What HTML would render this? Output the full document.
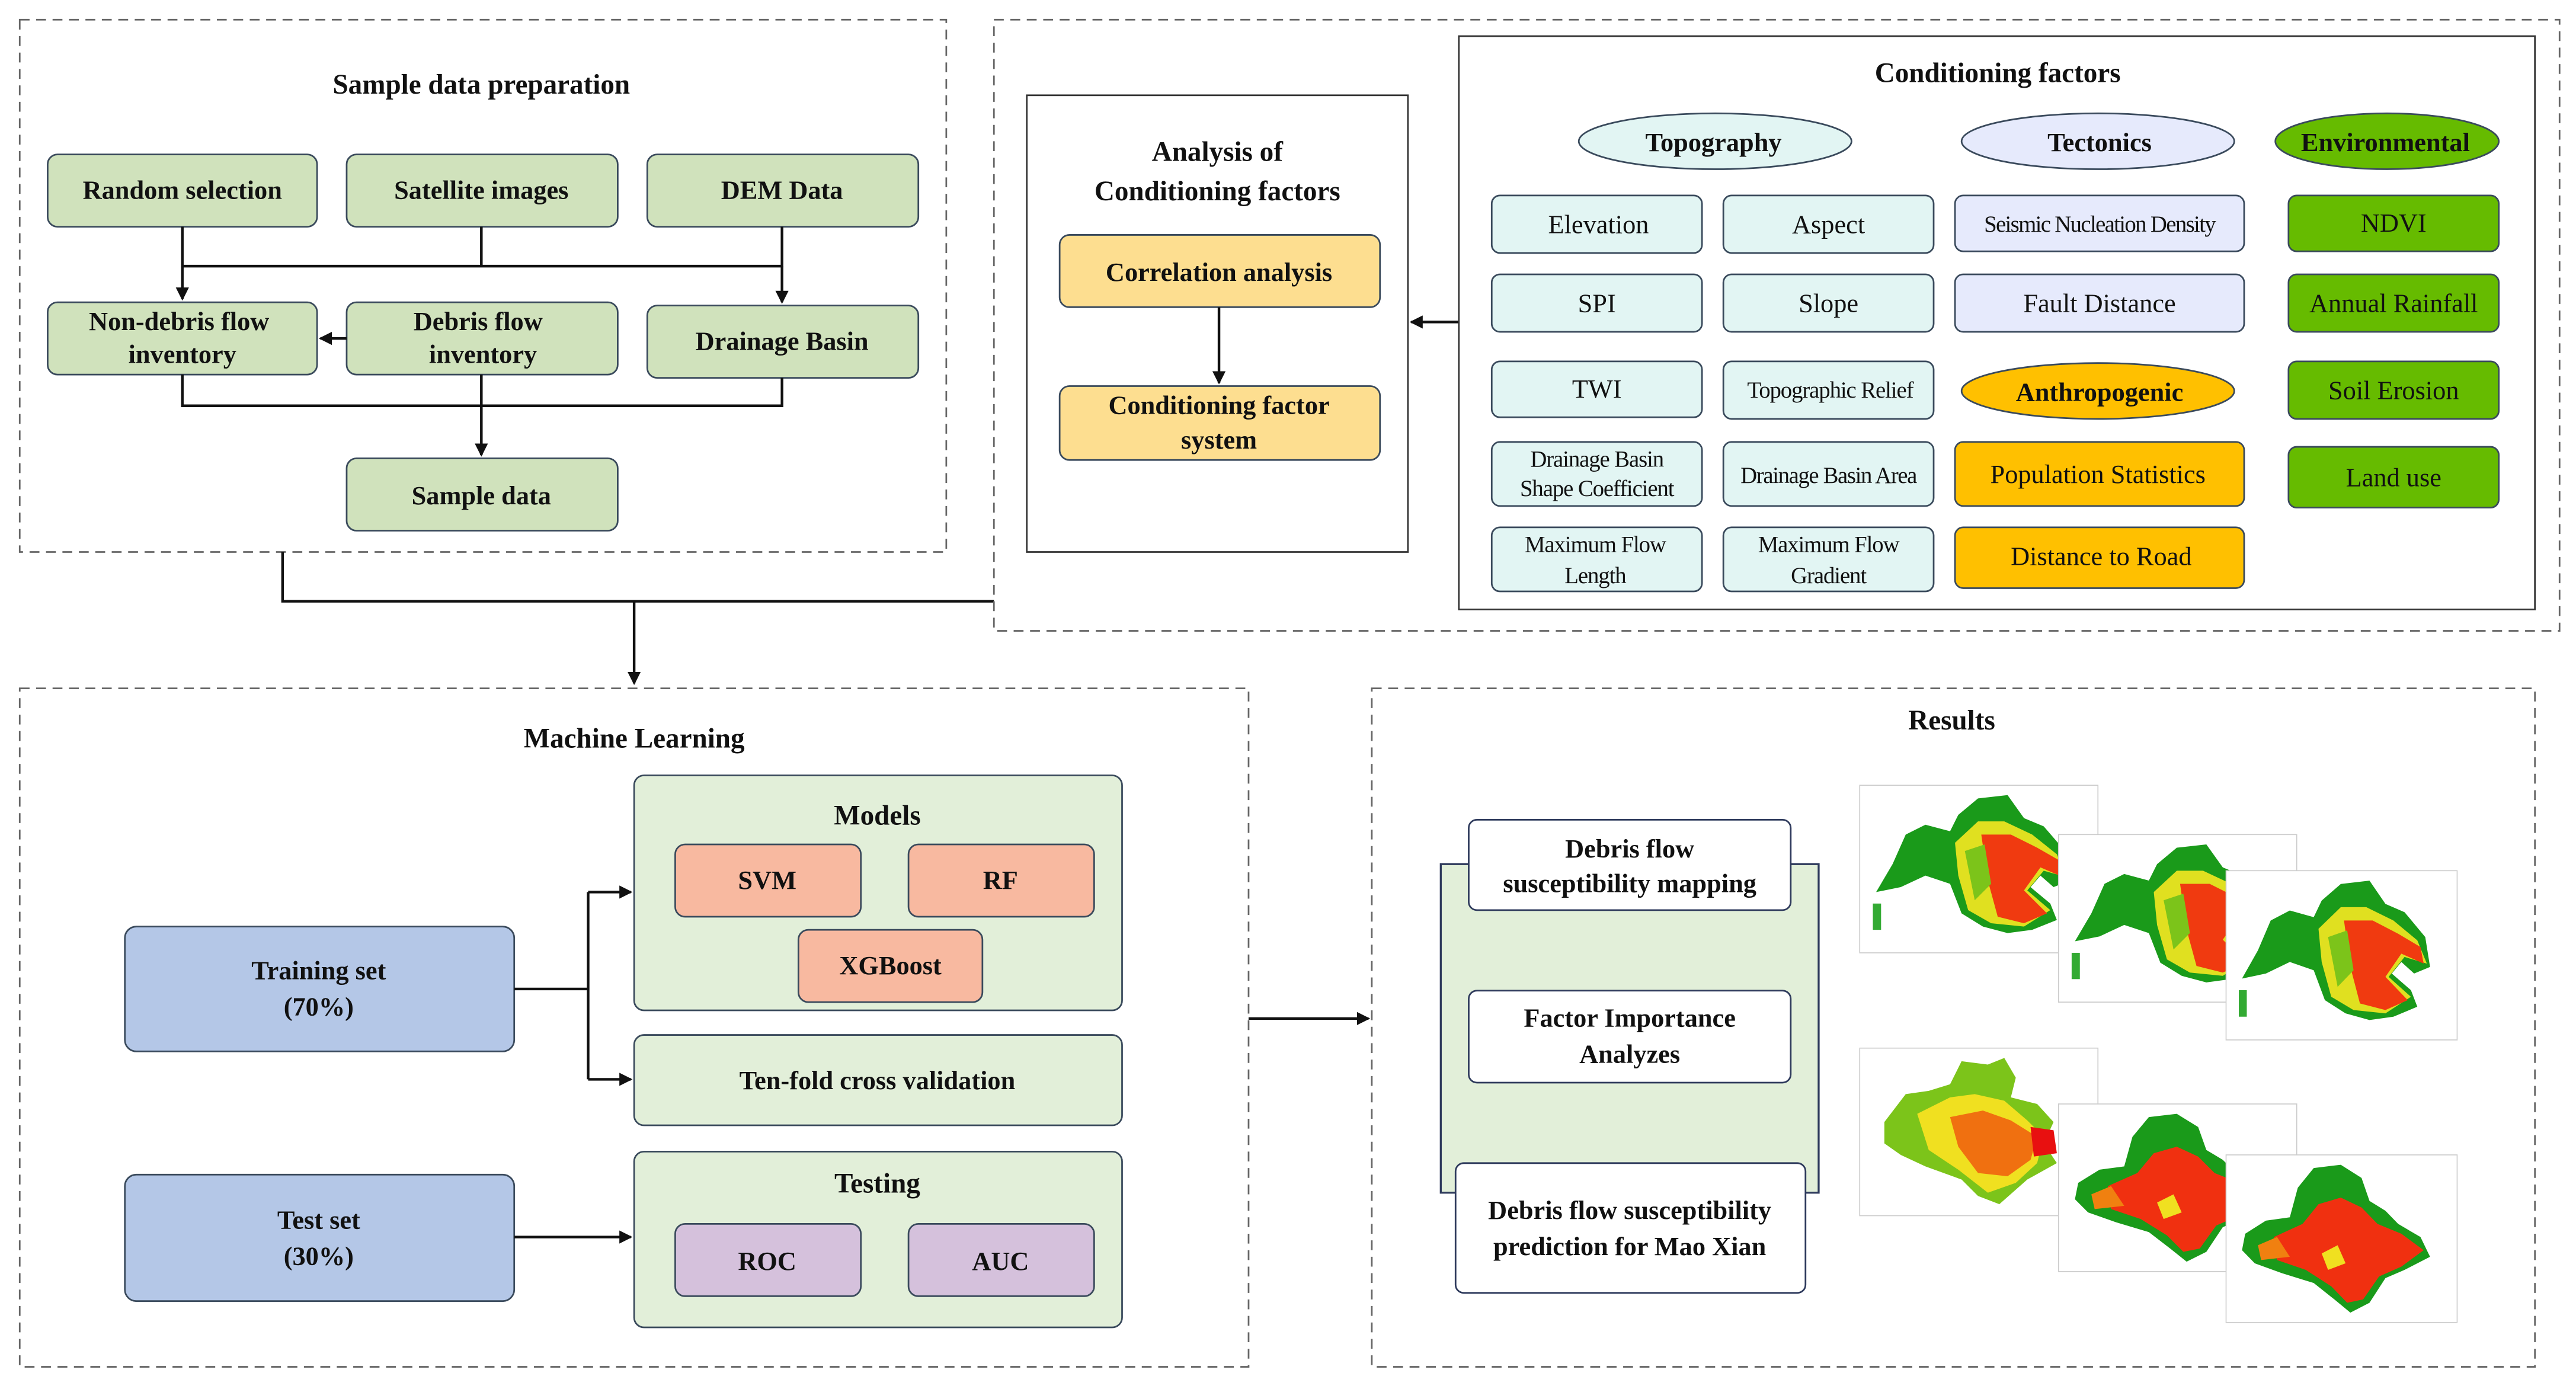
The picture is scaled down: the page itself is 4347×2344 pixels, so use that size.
<!DOCTYPE html>
<html><head><meta charset="utf-8"><style>
html,body{margin:0;padding:0;background:#fff;}
svg{display:block;}
text{font-family:"Liberation Serif",serif;fill:#111;}
.b{font-weight:bold;}
</style></head><body>
<svg width="4347" height="2344" viewBox="0 0 1568 845.5" xmlns="http://www.w3.org/2000/svg">
<defs>
<marker id="ar" markerWidth="8" markerHeight="8" refX="7" refY="4" orient="auto" markerUnits="userSpaceOnUse">
<path d="M0,0 L8,4 L0,8 Z" fill="#111"/></marker>
<g id="mapA">
<rect x="0" y="0" width="145" height="102" fill="#fff" stroke="#ccc" stroke-width="0.6"/>
<path d="M10,65 L20,48 L28,30 L40,24 L55,28 L60,18 L72,8 L90,6 L100,20 L112,25 L125,40 L128,58 L118,62 L110,55 L104,62 L116,72 L120,82 L105,88 L90,90 L75,86 L62,78 L55,60 L40,55 L25,62 Z" fill="#1a9a1a"/>
<path d="M58,35 L72,22 L88,22 L105,30 L120,42 L126,56 L112,52 L102,64 L116,76 L100,86 L80,84 L66,76 L60,55 Z" fill="#e0e020"/>
<path d="M74,30 L92,30 L108,38 L122,46 L124,56 L110,50 L100,64 L114,78 L100,84 L84,80 L78,58 Z" fill="#f03a10"/>
<path d="M64,40 L76,36 L80,60 L70,70 Z" fill="#7cc41a"/>
<rect x="8" y="72" width="5" height="16" fill="#3a3"/>
</g>
<g id="mapB">
<rect x="0" y="0" width="145" height="102" fill="#fff" stroke="#ccc" stroke-width="0.6"/>
<path d="M15,45 L28,28 L42,26 L55,22 L62,8 L78,10 L88,6 L95,18 L92,30 L108,34 L118,45 L112,58 L120,70 L102,80 L85,95 L72,90 L62,80 L40,72 L25,65 L15,58 Z" fill="#7cc41a"/>
<path d="M35,40 L55,30 L70,28 L88,32 L102,44 L112,54 L108,70 L95,82 L78,88 L60,74 L42,62 Z" fill="#f0e020"/>
<path d="M55,42 L75,38 L92,44 L108,54 L104,68 L90,78 L72,76 L60,60 Z" fill="#f07010"/>
<path d="M104,48 L118,50 L120,64 L106,66 Z" fill="#e81010"/>
</g>
<g id="mapC">
<rect x="0" y="0" width="145" height="102" fill="#fff" stroke="#ccc" stroke-width="0.6"/>
<path d="M12,48 L25,40 L40,38 L45,20 L55,8 L72,6 L85,14 L90,28 L100,34 L108,42 L122,50 L128,62 L112,70 L100,75 L90,90 L78,96 L68,88 L55,78 L35,72 L18,66 L10,58 Z" fill="#1a9a1a"/>
<path d="M30,50 L48,42 L58,30 L72,26 L85,32 L95,42 L110,48 L124,58 L110,68 L96,74 L86,88 L76,90 L66,80 L50,70 L32,64 Z" fill="#f03010"/>
<path d="M20,55 L32,50 L40,62 L22,64 Z" fill="#f08010"/>
<path d="M60,60 L70,55 L75,66 L64,70 Z" fill="#f0e020"/>
</g>
</defs>

<!-- Sample data preparation -->
<rect x="12" y="12" width="564" height="324" fill="none" stroke="#666" stroke-width="1" stroke-dasharray="6,4"/>
<text x="293" y="57" text-anchor="middle" class="b" font-size="17">Sample data preparation</text>
<g fill="#d0e2bc" stroke="#3a4a5c" stroke-width="1">
<rect x="29" y="94" width="164" height="44" rx="6"/>
<rect x="211" y="94" width="165" height="44" rx="6"/>
<rect x="394" y="94" width="165" height="44" rx="6"/>
<rect x="29" y="184" width="164" height="44" rx="6"/>
<rect x="211" y="184" width="165" height="44" rx="6"/>
<rect x="394" y="186" width="165" height="44" rx="6"/>
<rect x="211" y="279" width="165" height="44" rx="6"/>
</g>
<g class="b" font-size="16" text-anchor="middle">
<text x="111" y="121" class="b">Random selection</text>
<text x="293" y="121" class="b">Satellite images</text>
<text x="476" y="121" class="b">DEM Data</text>
<text x="109" y="201" class="b">Non-debris flow</text>
<text x="111" y="221" class="b">inventory</text>
<text x="291" y="201" class="b">Debris flow</text>
<text x="294" y="221" class="b">inventory</text>
<text x="476" y="213" class="b">Drainage Basin</text>
<text x="293" y="307" class="b">Sample data</text>
</g>
<g stroke="#111" stroke-width="1.6" fill="none">
<path d="M111,138 V162 H476 V138"/>
<path d="M293,138 V162"/>
<path d="M111,162 V182" marker-end="url(#ar)"/>
<path d="M476,162 V184" marker-end="url(#ar)"/>
<path d="M211,206 H195" marker-end="url(#ar)"/>
<path d="M111,228 V247 H476 V230"/>
<path d="M293,228 V277" marker-end="url(#ar)"/>
<path d="M172,336 V366 H605"/>
<path d="M386,366 V416" marker-end="url(#ar)"/>
</g>

<!-- Top right -->
<rect x="605" y="12" width="953" height="372" fill="none" stroke="#666" stroke-width="1" stroke-dasharray="6,4"/>
<rect x="625" y="58" width="232" height="278" fill="none" stroke="#333" stroke-width="1"/>
<text x="741" y="98" text-anchor="middle" class="b" font-size="17">Analysis of</text>
<text x="741" y="122" text-anchor="middle" class="b" font-size="17">Conditioning factors</text>
<rect x="645" y="143" width="195" height="44" rx="6" fill="#fdde90" stroke="#3a4a5c"/>
<rect x="645" y="235" width="195" height="45" rx="6" fill="#fdde90" stroke="#3a4a5c"/>
<text x="742" y="171" text-anchor="middle" class="b" font-size="16">Correlation analysis</text>
<text x="742" y="252" text-anchor="middle" class="b" font-size="16">Conditioning factor</text>
<text x="742" y="273" text-anchor="middle" class="b" font-size="16">system</text>
<path d="M742,187 V233" stroke="#111" stroke-width="1.6" marker-end="url(#ar)"/>
<path d="M888,196 H859" stroke="#111" stroke-width="1.6" marker-end="url(#ar)"/>

<rect x="888" y="22" width="655" height="349" fill="none" stroke="#333" stroke-width="1"/>
<text x="1216" y="50" text-anchor="middle" class="b" font-size="17">Conditioning factors</text>
<ellipse cx="1044" cy="86" rx="83" ry="17" fill="#e2f5f3" stroke="#3a4a5c"/>
<ellipse cx="1277" cy="86" rx="83" ry="17" fill="#e6eafc" stroke="#3a4a5c"/>
<ellipse cx="1453" cy="86" rx="68" ry="17" fill="#66bb00" stroke="#3a4a5c"/>
<ellipse cx="1277" cy="238" rx="83" ry="17" fill="#ffc000" stroke="#3a4a5c"/>
<g class="b" font-size="16" text-anchor="middle">
<text x="1043" y="92" class="b">Topography</text>
<text x="1278" y="92" class="b">Tectonics</text>
<text x="1452" y="92" class="b">Environmental</text>
<text x="1278" y="244" class="b">Anthropogenic</text>
</g>
<g stroke="#3a4a5c" stroke-width="1">
<g fill="#e2f5f3">
<rect x="908" y="119" width="128" height="35" rx="5"/>
<rect x="1049" y="119" width="128" height="35" rx="5"/>
<rect x="908" y="167" width="128" height="35" rx="5"/>
<rect x="1049" y="167" width="128" height="35" rx="5"/>
<rect x="908" y="220" width="128" height="34" rx="5"/>
<rect x="1049" y="220" width="128" height="35" rx="5"/>
<rect x="908" y="269" width="128" height="39" rx="5"/>
<rect x="1049" y="269" width="128" height="39" rx="5"/>
<rect x="908" y="321" width="128" height="39" rx="5"/>
<rect x="1049" y="321" width="128" height="39" rx="5"/>
</g>
<g fill="#e6eafc">
<rect x="1190" y="119" width="176" height="34" rx="5"/>
<rect x="1190" y="167" width="176" height="35" rx="5"/>
</g>
<g fill="#ffc000">
<rect x="1190" y="269" width="176" height="39" rx="5"/>
<rect x="1190" y="321" width="176" height="37" rx="5"/>
</g>
<g fill="#66bb00">
<rect x="1393" y="119" width="128" height="34" rx="5"/>
<rect x="1393" y="167" width="128" height="35" rx="5"/>
<rect x="1393" y="220" width="128" height="35" rx="5"/>
<rect x="1393" y="272" width="128" height="37" rx="5"/>
</g>
</g>
<g font-size="16" text-anchor="middle">
<text x="973" y="142">Elevation</text>
<text x="1113" y="142">Aspect</text>
<text x="1278" y="141" font-size="14" letter-spacing="-0.6">Seismic Nucleation Density</text>
<text x="1457" y="141">NDVI</text>
<text x="972" y="190">SPI</text>
<text x="1113" y="190">Slope</text>
<text x="1278" y="190">Fault Distance</text>
<text x="1457" y="190">Annual Rainfall</text>
<text x="972" y="242">TWI</text>
<text x="1114" y="242" font-size="14" letter-spacing="-0.4">Topographic Relief</text>
<text x="1457" y="243">Soil Erosion</text>
<text x="972" y="284" font-size="14" letter-spacing="-0.4">Drainage Basin</text>
<text x="972" y="302" font-size="14" letter-spacing="-0.4">Shape Coefficient</text>
<text x="1113" y="294" font-size="14" letter-spacing="-0.5">Drainage Basin Area</text>
<text x="1277" y="294">Population Statistics</text>
<text x="1457" y="296">Land use</text>
<text x="971" y="336" font-size="14" letter-spacing="-0.4">Maximum Flow</text>
<text x="971" y="355" font-size="14" letter-spacing="-0.4">Length</text>
<text x="1113" y="336" font-size="14" letter-spacing="-0.4">Maximum Flow</text>
<text x="1113" y="355" font-size="14" letter-spacing="-0.4">Gradient</text>
<text x="1279" y="344">Distance to Road</text>
</g>

<!-- Machine Learning -->
<rect x="12" y="419" width="748" height="413" fill="none" stroke="#666" stroke-width="1" stroke-dasharray="6,4"/>
<text x="386" y="455" text-anchor="middle" class="b" font-size="17">Machine Learning</text>
<g stroke="#3a4a5c" stroke-width="1">
<rect x="386" y="472" width="297" height="143" rx="6" fill="#e2efd9"/>
<rect x="386" y="630" width="297" height="55" rx="6" fill="#e2efd9"/>
<rect x="386" y="701" width="297" height="107" rx="6" fill="#e2efd9"/>
<rect x="411" y="514" width="113" height="44" rx="6" fill="#f8b9a0"/>
<rect x="553" y="514" width="113" height="44" rx="6" fill="#f8b9a0"/>
<rect x="486" y="566" width="112" height="44" rx="6" fill="#f8b9a0"/>
<rect x="411" y="745" width="113" height="44" rx="6" fill="#d5c1dc"/>
<rect x="553" y="745" width="113" height="44" rx="6" fill="#d5c1dc"/>
<rect x="76" y="564" width="237" height="76" rx="7" fill="#b4c7e7"/>
<rect x="76" y="715" width="237" height="77" rx="7" fill="#b4c7e7"/>
</g>
<g class="b" font-size="16" text-anchor="middle">
<text x="534" y="502" class="b" font-size="17">Models</text>
<text x="467" y="541" class="b">SVM</text>
<text x="609" y="541" class="b">RF</text>
<text x="542" y="593" class="b">XGBoost</text>
<text x="534" y="663" class="b">Ten-fold cross validation</text>
<text x="534" y="726" class="b" font-size="17">Testing</text>
<text x="467" y="773" class="b">ROC</text>
<text x="609" y="773" class="b">AUC</text>
<text x="194" y="596" class="b">Training set</text>
<text x="194" y="618" class="b">(70%)</text>
<text x="194" y="748" class="b">Test set</text>
<text x="194" y="770" class="b">(30%)</text>
</g>
<g stroke="#111" stroke-width="1.6" fill="none">
<path d="M313,602 H358"/>
<path d="M358,543 V657"/>
<path d="M358,543 H384" marker-end="url(#ar)"/>
<path d="M358,657 H384" marker-end="url(#ar)"/>
<path d="M313,753 H384" marker-end="url(#ar)"/>
<path d="M760,620 H833" marker-end="url(#ar)"/>
</g>

<!-- Results -->
<rect x="835" y="419" width="708" height="413" fill="none" stroke="#666" stroke-width="1" stroke-dasharray="6,4"/>
<text x="1188" y="444" text-anchor="middle" class="b" font-size="17">Results</text>
<rect x="877" y="526" width="230" height="200" fill="#e2efd9" stroke="#2e3a5c" stroke-width="1.2"/>
<g fill="#fff" stroke="#2e3a5c" stroke-width="1">
<rect x="894" y="499" width="196" height="55" rx="5"/>
<rect x="894" y="603" width="196" height="56" rx="5"/>
<rect x="886" y="708" width="213" height="79" rx="5"/>
</g>
<g class="b" font-size="16" text-anchor="middle">
<text x="992" y="522" class="b">Debris flow</text>
<text x="992" y="543" class="b">susceptibility mapping</text>
<text x="992" y="625" class="b">Factor Importance</text>
<text x="992" y="647" class="b">Analyzes</text>
<text x="992" y="742" class="b">Debris flow susceptibility</text>
<text x="992" y="764" class="b">prediction for Mao Xian</text>
</g>
<use href="#mapA" transform="translate(1132,478)"/>
<use href="#mapA" transform="translate(1253,508)"/>
<use href="#mapA" transform="translate(1355,530) scale(0.97,1.01)"/>
<use href="#mapB" transform="translate(1132,638)"/>
<use href="#mapC" transform="translate(1253,672)"/>
<use href="#mapC" transform="translate(1355,703) scale(0.97,1.0)"/>
</svg>
</body></html>
